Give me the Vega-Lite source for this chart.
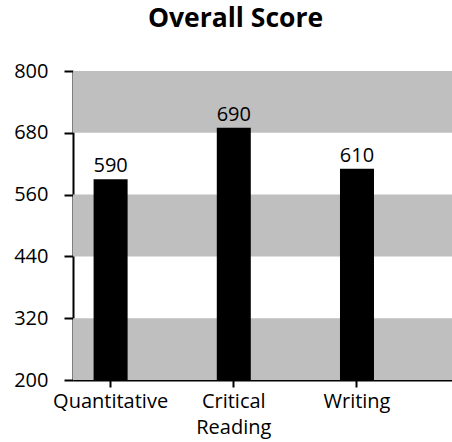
{
  "$schema": "https://vega.github.io/schema/vega-lite/v6.json",
  "autosize": {"type": "fit", "contains": "padding"},
  "width": 452,
  "height": 442,
  "padding": {"left": 13, "top": 5, "right": 0, "bottom": 5},
  "background": "white",
  "config": {"view": {"stroke": null}, "font": "Open Sans"},
  "title": {"text": "Overall Score", "fontSize": 26.5, "fontWeight": "bold", "font": "Open Sans", "color": "black", "anchor": "middle", "dx": -27, "offset": 29},
  "datasets": {
    "bands": [
      {"lo": 200, "hi": 320},
      {"lo": 440, "hi": 560},
      {"lo": 680, "hi": 800}
    ],
    "scores": [
      {"section": "Quantitative", "score": 590},
      {"section": "Critical Reading", "score": 690},
      {"section": "Writing", "score": 610}
    ]
  },
  "layer": [
    {
      "data": {"name": "bands"},
      "mark": {"type": "rect", "color": "#bfbfbf"},
      "encoding": {
        "y": {"field": "lo", "type": "quantitative", "scale": {"domain": [200, 800], "nice": false, "zero": false}},
        "y2": {"field": "hi"}
      }
    },
    {
      "data": {"name": "scores"},
      "mark": {"type": "bar", "color": "black", "width": 34},
      "encoding": {
        "x": {"field": "section", "type": "nominal", "sort": null,
          "scale": {"paddingInner": 0.3895, "paddingOuter": 0.233, "align": 0},
          "axis": {"title": null, "labelAngle": 0, "labelFontSize": 20, "labelColor": "black", "labelFont": "Open Sans",
            "labelExpr": "split(datum.label, ' ')", "labelLineHeight": 26, "labelPadding": 4,
            "tickSize": 7, "tickColor": "black", "tickWidth": 2, "domainColor": "black", "domainWidth": 2, "labelBaseline": "top"}},
        "y": {"field": "score", "type": "quantitative", "scale": {"domain": [200, 800], "nice": false, "zero": false},
          "axis": {"title": null, "values": [200, 320, 440, 560, 680, 800], "grid": false, "labelFontSize": 20, "labelColor": "black", "labelFont": "Open Sans",
            "tickSize": 9, "tickColor": "black", "tickWidth": 2, "domainColor": "black", "domainWidth": 2, "labelPadding": 16}},
        "y2": {"datum": 200}
      }
    },
    {
      "data": {"name": "scores"},
      "mark": {"type": "text", "fontSize": 20, "color": "black", "baseline": "alphabetic", "dy": -7, "font": "Open Sans"},
      "encoding": {
        "x": {"field": "section", "type": "nominal", "sort": null},
        "y": {"field": "score", "type": "quantitative"},
        "text": {"field": "score", "type": "quantitative"}
      }
    }
  ]
}
